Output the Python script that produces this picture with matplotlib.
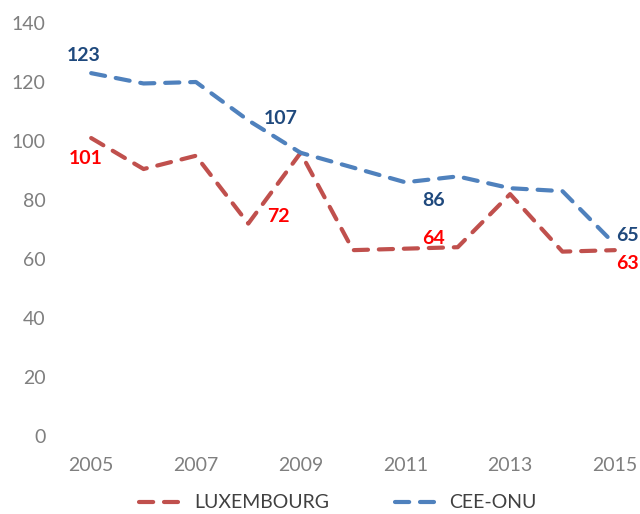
import matplotlib.pyplot as plt

plt.rcParams['font.family'] = ['Lato', 'DejaVu Sans']

years = list(range(2005, 2016))
luxembourg = [101, 90.5, 95, 72, 96, 63, 63.5, 64, 82, 62.5, 63]
cee_onu = [123, 119.5, 120, 107, 96, 91, 86, 88, 84, 83, 65]

# labels shown on the chart: (index, text, dx, dy)
lux_labels = [(0, '101', -5, -20), (3, '72', 30, 7), (6, '64', 28, 10), (10, '63', 13, -13)]
cee_labels = [(0, '123', -8, 18), (3, '107', 32, 2), (6, '86', 28, -18), (10, '65', 13, 9)]

RED = '#C0504D'
BLUE = '#4F81BD'

fig = plt.figure(figsize=(6.4, 5.14), dpi=100)
ax = fig.add_axes([65/640, 1 - 436/514, 576/640, (436 - 23)/514])

ax.plot(years, luxembourg, color=RED, lw=3, dashes=(3.4, 2.6), dash_capstyle='round',
        label='LUXEMBOURG')
ax.plot(years, cee_onu, color=BLUE, lw=3, dashes=(3.4, 2.6), dash_capstyle='round',
        label='CEE-ONU')

for i, t, dx, dy in lux_labels:
    ax.annotate(t, (years[i], luxembourg[i]), xytext=(dx, dy), textcoords='offset pixels',
                ha='center', va='center', color='#FF0000', fontsize=14, fontweight='bold')
for i, t, dx, dy in cee_labels:
    ax.annotate(t, (years[i], cee_onu[i]), xytext=(dx, dy), textcoords='offset pixels',
                ha='center', va='center', color='#1F497D', fontsize=14, fontweight='bold')

ax.set_xlim(2004.5, 2015.5)
ax.set_ylim(0, 140)
ax.set_yticks(range(0, 141, 20))
ax.set_xticks(years[::2])
ax.tick_params(length=0, labelsize=14, labelcolor='#7F7F7F')
ax.tick_params(axis='x', pad=15)
ax.tick_params(axis='y', pad=14)
for s in ax.spines.values():
    s.set_visible(False)

fig.legend(loc='center', bbox_to_anchor=(338/640, 1 - 503/514), ncol=2, frameon=False,
           fontsize=14, handlelength=2.0, handletextpad=0.8, columnspacing=3.4,
           labelcolor='#404040')

fig.savefig('out.png', dpi=100)
